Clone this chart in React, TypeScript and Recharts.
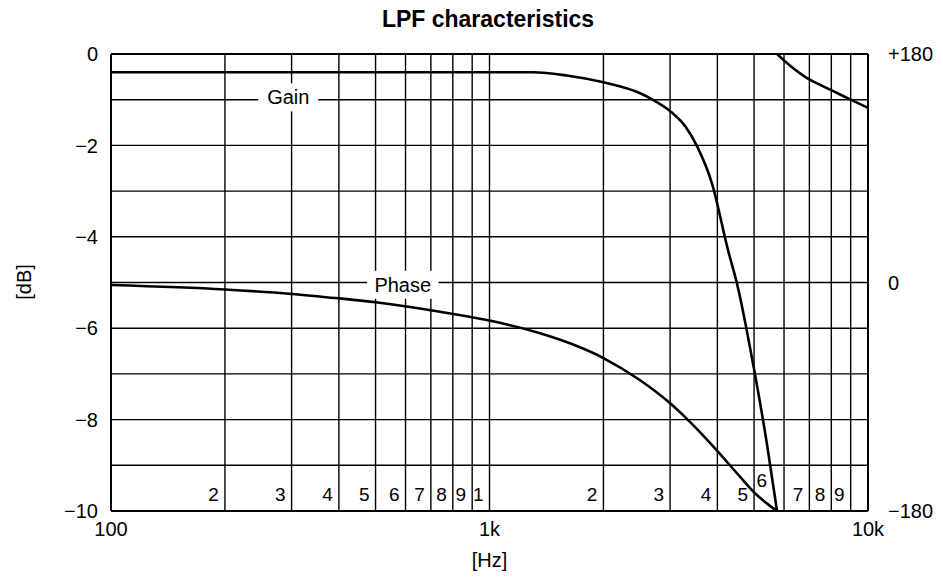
import React from 'react'
import {
  LineChart,
  Line,
  XAxis,
  YAxis,
  CartesianGrid,
  ReferenceLine,
  ReferenceDot,
} from 'recharts'

// gain curve
const gainFreqHz = [100, 200, 300, 400, 500, 700, 1000, 1300, 1600, 2000, 2500, 2700, 3000, 3300, 3550, 3870, 4270, 4500, 5000, 5400, 5750]
const gainDb = [-0.4, -0.4, -0.4, -0.4, -0.4, -0.4, -0.4, -0.4, -0.47, -0.62, -0.86, -1.0, -1.25, -1.6, -2.05, -2.83, -4.3, -5.0, -6.9, -8.5, -10]

// phase curve (degrees, right axis)
const phaseFreqHz = [100, 200, 300, 400, 500, 740, 1000, 1360, 1650, 2000, 2500, 2970, 3390, 3980, 4590, 5030, 5400, 5750]
const phaseDeg = [-2, -5.5, -9, -12.5, -15.5, -23, -30, -40, -48.5, -59.5, -77, -94, -110, -132, -153, -166, -174, -180]

// phase after wrapping from -180 to +180
const wrapFreqHz = [5750, 6300, 6900, 7500, 8000, 9000, 10000]
const wrapPhaseDeg = [180, 169.5, 161, 155.5, 151.5, 144, 137.5]

const gridFreqs = [100, 200, 300, 400, 500, 600, 700, 800, 900, 1000, 2000, 3000, 4000, 5000, 6000, 7000, 8000, 9000, 10000]
const decadeLabels: Record<number, string> = { 100: '100', 1000: '1k', 10000: '10k' }
const minorFreqs = [200, 300, 400, 500, 600, 700, 800, 900, 1000, 2000, 3000, 4000, 5000, 6000, 7000, 8000, 9000]
const minorLabels = ['2', '3', '4', '5', '6', '7', '8', '9', '1', '2', '3', '4', '5', '6', '7', '8', '9']
const dbTicks = [0, -1, -2, -3, -4, -5, -6, -7, -8, -9, -10]
const phaseTicks = [180, 0, -180]

const curveTags = [
  { text: 'Gain', f: 294, db: -0.95 },
  { text: 'Phase', f: 590, db: -5.05 },
]

const FONT = '"Liberation Sans", Arial, Helvetica, sans-serif'

const gainRows = gainFreqHz.map((f, i) => ({ f, v: gainDb[i] }))
const phaseRows = phaseFreqHz.map((f, i) => ({ f, v: phaseDeg[i] }))
const wrapRows = wrapFreqHz.map((f, i) => ({ f, v: wrapPhaseDeg[i] }))

const fmtDb = (v: number) => {
  if (v % 2 !== 0) return ''
  return v === 0 ? '0' : '\u2212' + Math.abs(v)
}

const fmtPhase = (v: number) => {
  if (v > 0) return '+' + v
  if (v < 0) return '\u2212' + Math.abs(v)
  return '0'
}

// the 6k digit sits higher, tucked between the two curves
function MinorDigit(props: any) {
  const { cx, cy, label, raised } = props
  return (
    <text
      x={cx - 6 - (raised ? 11 : 0)}
      y={cy - 10 - (raised ? 14 : 0)}
      textAnchor="end"
      fontSize={19}
      fontFamily={FONT}
      fill="#000"
    >
      {label}
    </text>
  )
}

function CurveTag(props: any) {
  const { cx, cy, text } = props
  const w = text.length * 11.5 + 14
  return (
    <g>
      <rect x={cx - w / 2} y={cy - 14} width={w} height={28} fill="#fff" />
      <text
        x={cx}
        y={cy}
        textAnchor="middle"
        dominantBaseline="central"
        fontSize={20}
        fontFamily={FONT}
        fill="#000"
      >
        {text}
      </text>
    </g>
  )
}

export default function App() {
  const tickStyle = { fill: '#000', fontSize: 20, fontFamily: FONT }

  return (
    <div style={{ position: 'absolute', left: 0, top: 0, width: 943, height: 587, background: '#fff' }}>
      <LineChart
        width={943}
        height={587}
        margin={{ top: 54, right: 0, bottom: 20, left: 20 }}
      >
        <CartesianGrid
          yAxisId="left"
          stroke="#000"
          strokeWidth={1.4}
          strokeOpacity={1}
          fill="none"
        />

        <XAxis
          dataKey="f"
          type="number"
          scale="log"
          domain={[100, 10000]}
          ticks={gridFreqs}
          interval={0}
          allowDataOverflow
          tickFormatter={(v: number) => decadeLabels[v] ?? ''}
          tickLine={false}
          axisLine={{ stroke: '#000', strokeWidth: 2 }}
          tick={tickStyle}
          tickMargin={5}
          height={56}
          label={{ value: '[Hz]', position: 'insideBottom', offset: 0, fill: '#000', fontSize: 20, fontFamily: FONT }}
        />

        <YAxis
          yAxisId="left"
          type="number"
          domain={[-10, 0]}
          ticks={dbTicks}
          interval={0}
          allowDataOverflow
          tickFormatter={fmtDb}
          tickLine={false}
          axisLine={{ stroke: '#000', strokeWidth: 2 }}
          tick={tickStyle}
          tickMargin={7}
          width={91}
        />

        <YAxis
          yAxisId="right"
          orientation="right"
          type="number"
          domain={[-180, 180]}
          ticks={phaseTicks}
          interval={0}
          allowDataOverflow
          tickFormatter={fmtPhase}
          tickLine={false}
          axisLine={{ stroke: '#000', strokeWidth: 2 }}
          tick={{ ...tickStyle, textAnchor: 'start' }}
          tickMargin={14}
          width={75}
        />

        <ReferenceLine yAxisId="left" y={0} stroke="#000" strokeWidth={2} />

        <Line
          yAxisId="left"
          data={gainRows}
          type="monotone"
          dataKey="v"
          stroke="#000"
          strokeWidth={2.6}
          dot={false}
          isAnimationActive={false}
        />

        <Line
          yAxisId="right"
          data={phaseRows}
          type="monotone"
          dataKey="v"
          stroke="#000"
          strokeWidth={2.6}
          dot={false}
          isAnimationActive={false}
        />

        <Line
          yAxisId="right"
          data={wrapRows}
          type="monotone"
          dataKey="v"
          stroke="#000"
          strokeWidth={2.6}
          dot={false}
          isAnimationActive={false}
        />

        {minorFreqs.map((f, i) => (
          <ReferenceDot
            key={'m' + i}
            yAxisId="left"
            x={f}
            y={-10}
            r={0}
            ifOverflow="visible"
            shape={(p: any) => <MinorDigit {...p} label={minorLabels[i]} raised={f === 6000} />}
          />
        ))}

        {curveTags.map((t) => (
          <ReferenceDot
            key={t.text}
            yAxisId="left"
            x={t.f}
            y={t.db}
            r={0}
            ifOverflow="visible"
            shape={(p: any) => <CurveTag {...p} text={t.text} />}
          />
        ))}
      </LineChart>

      <svg
        width={943}
        height={587}
        style={{ position: 'absolute', left: 0, top: 0, pointerEvents: 'none' }}
      >
        <text x={488} y={27} textAnchor="middle" fontSize={23} fontWeight="bold" fontFamily={FONT} fill="#000">
          LPF characteristics
        </text>
        <text
          x={24}
          y={282}
          textAnchor="middle"
          dominantBaseline="central"
          fontSize={20}
          fontFamily={FONT}
          fill="#000"
          transform="rotate(-90 24 282)"
        >
          [dB]
        </text>
      </svg>
    </div>
  )
}
